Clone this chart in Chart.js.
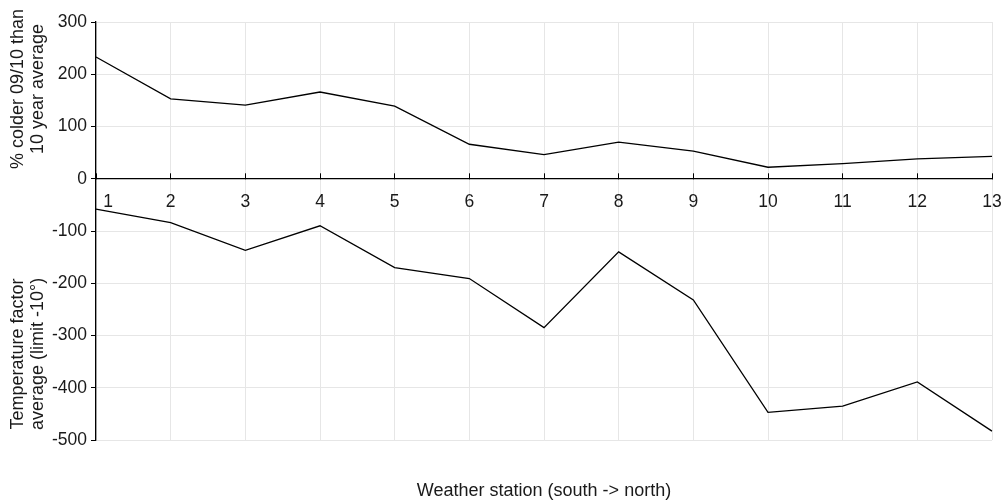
<!DOCTYPE html>
<html>
<head>
<meta charset="utf-8">
<script src="https://cdn.jsdelivr.net/npm/chart.js@4/dist/chart.umd.min.js"></script>
<style>
  html, body { margin: 0; padding: 0; background: #fff; overflow: hidden; }
  #wrap { width: 1005px; height: 501px; }
</style>
</head>
<body>
<div id="wrap"><canvas id="chart"></canvas></div>
<script>
// weather stations, south -> north
let stations = ["1", "2", "3", "4", "5", "6", "7", "8", "9", "10", "11", "12", "13"];

// % colder 09/10 than the 10 year average
let colderPct = [233, 153, 141, 166, 139, 66, 46, 70, 53, 22, 29, 38, 43];

// temperature factor average (limit -10°)
let tempFactor = [-58, -84, -137, -90, -170, -191, -285, -140, -232, -447, -435, -389, -483];

let yTicks = [300, 200, 100, 0, -100, -200, -300, -400, -500];

let textColor = "#1a1a1a";
let fontFamily = "'Liberation Sans', Arial, sans-serif";

// the two halves of the y axis each have their own title
let yTitles = {
    id: "yTitles",
    afterDraw(chart) {
        let ctx = chart.ctx;
        let area = chart.chartArea;
        ctx.save();
        ctx.fillStyle = textColor;
        ctx.font = "18px " + fontFamily;
        ctx.textAlign = "center";
        ctx.textBaseline = "middle";
        let blocks = [
            {lines: ["% colder 09/10 than", "10 year average"], cy: area.top + 67},
            {lines: ["Temperature factor", "average (limit -10°)"], cy: area.top + 332}
        ];
        blocks.forEach(b => {
            b.lines.forEach((line, i) => {
                ctx.save();
                ctx.translate(18 + i * 20, b.cy);
                ctx.rotate(-Math.PI / 2);
                ctx.fillText(line, 0, 0);
                ctx.restore();
            });
        });
        ctx.restore();
    }
};

let noSidePadding = (scale) => {
    scale.paddingLeft = 0;
    scale.paddingRight = 0;
};

let chartElement = document.querySelector("#chart").getContext("2d");
new Chart(chartElement, {
    type: "line",
    data: {
        labels: stations,
        datasets: [{
            label: "% colder 09/10 than 10 year average",
            data: colderPct,
            borderColor: "#000",
            borderWidth: 1.3,
            pointRadius: 0,
            tension: 0,
            fill: false
        }, {
            label: "Temperature factor average (limit -10°)",
            data: tempFactor,
            borderColor: "#000",
            borderWidth: 1.3,
            pointRadius: 0,
            tension: 0,
            fill: false
        }]
    },
    options: {
        responsive: true,
        maintainAspectRatio: false,
        animation: false,
        layout: {padding: {top: 22, right: 13, bottom: 0, left: 0}},
        plugins: {
            legend: {display: false},
            tooltip: {enabled: false}
        },
        scales: {
            x: {
                type: "category",
                offset: false,
                position: {y: 0},
                grid: {
                    color: "#e6e6e6",
                    tickColor: "#000",
                    tickLength: -6,
                    lineWidth: 1
                },
                border: {color: "#000", width: 1.3},
                ticks: {
                    color: textColor,
                    font: {size: 17.5, family: fontFamily},
                    padding: 19,
                    maxRotation: 0,
                    autoSkip: false,
                    // first label sits clear of the y axis line
                    callback: (value, index) => index === 0 ? "     " + stations[index] : stations[index]
                },
                afterFit: noSidePadding
            },
            x2: {
                type: "category",
                labels: stations,
                offset: false,
                position: "bottom",
                grid: {display: false},
                border: {display: false},
                ticks: {display: false},
                title: {
                    display: true,
                    text: "Weather station (south -> north)",
                    color: textColor,
                    font: {size: 18, family: fontFamily},
                    padding: {top: 0, bottom: -1}
                },
                afterFit(scale) {
                    noSidePadding(scale);
                    scale.height = 61;
                }
            },
            y: {
                min: -500,
                max: 300,
                afterBuildTicks(scale) {
                    scale.ticks = yTicks.map(v => ({value: v}));
                },
                grid: {
                    color: "#e6e6e6",
                    tickColor: "#000",
                    tickLength: 5,
                    lineWidth: 1
                },
                border: {color: "#000", width: 1.3},
                ticks: {
                    color: textColor,
                    font: {size: 17.5, family: fontFamily},
                    padding: 4
                },
                afterFit(scale) { scale.width = 96; }
            }
        }
    },
    plugins: [yTitles]
});
</script>
</body>
</html>
